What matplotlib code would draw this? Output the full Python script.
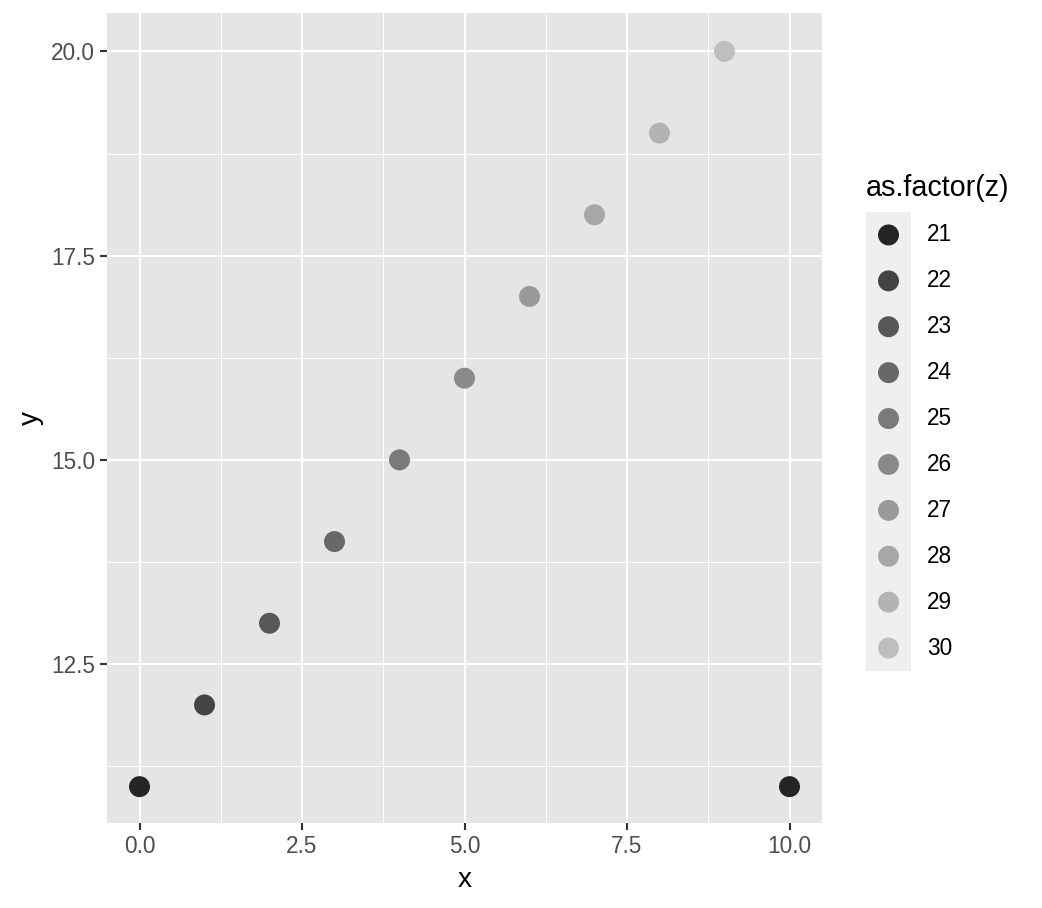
import matplotlib
matplotlib.use("Agg")
import matplotlib.pyplot as plt
from matplotlib.patches import Rectangle

plt.rcParams["font.family"] = ["Liberation Sans", "DejaVu Sans"]

# data
x = [0, 1, 2, 3, 4, 5, 6, 7, 8, 9, 10]
y = [11, 12, 13, 14, 15, 16, 17, 18, 19, 20, 11]
z = [21, 22, 23, 24, 25, 26, 27, 28, 29, 30, 21]
levels = [21, 22, 23, 24, 25, 26, 27, 28, 29, 30]
level_colors = ["#242424", "#444444", "#575757", "#686868", "#7a7a7a",
                "#8a8a8a", "#999999", "#a7a7a7", "#b3b3b3", "#bebebe"]
xticks = [0.0, 2.5, 5.0, 7.5, 10.0]
yticks = [12.5, 15.0, 17.5, 20.0]

W, H, DPI = 1042, 908, 144
fig = plt.figure(figsize=(W / DPI, H / DPI), dpi=DPI)
fig.patch.set_facecolor("white")

def fx(px):
    return px / W

def fy(py):
    return 1 - py / H

L, R, T, B = 107, 822, 13, 823
ax = fig.add_axes([fx(L), fy(B), fx(R) - fx(L), fy(T) - fy(B)])
ax.set_facecolor("#E5E5E5")
for s in ax.spines.values():
    s.set_visible(False)

ax.set_xlim(-0.5, 10.5)
ax.set_ylim(10.555, 20.47)
ax.set_xticks(xticks)
ax.set_yticks(yticks)
ax.set_xticklabels(["0.0", "2.5", "5.0", "7.5", "10.0"])
ax.set_yticklabels(["12.5", "15.0", "17.5", "20.0"])
ax.set_xticks([1.25, 3.75, 6.25, 8.75], minor=True)
ax.set_yticks([11.25, 13.75, 16.25, 18.75], minor=True)
ax.grid(which="major", color="white", linewidth=1.07)
ax.grid(which="minor", color="white", linewidth=0.53)
ax.set_axisbelow(True)
ax.tick_params(which="major", length=3.5, width=1.07, color="#333333",
               labelsize=11.3, labelcolor="#4D4D4D", pad=2.5)
ax.tick_params(which="minor", length=0)

cmap = dict(zip(levels, level_colors))
ax.scatter(x, y, c=[cmap[v] for v in z], s=110, linewidths=0, zorder=3)

fig.text(fx((L + R) / 2), fy(880), "x", fontsize=14, ha="center", va="center", color="black")
fig.text(fx(31), fy((T + B) / 2), "y", fontsize=14, ha="center", va="center",
         rotation=90, color="black")

# legend
kx0, kx1 = 866, 911
ky0 = 212
kh = 45.9
n = len(levels)
lax = fig.add_axes([fx(kx0), fy(ky0 + kh * n), fx(kx1) - fx(kx0), fy(ky0) - fy(ky0 + kh * n)])
lax.set_xlim(0, 1)
lax.set_ylim(n, 0)
lax.axis("off")
lax.add_patch(Rectangle((0, 0), 1, n, facecolor="#EFEFEF", edgecolor="none"))
lax.scatter([0.5] * n, [i + 0.5 for i in range(n)], c=level_colors, s=110, linewidths=0)
for i, lv in enumerate(levels):
    fig.text(fx(927), fy(ky0 + kh * (i + 0.5)), str(lv), fontsize=11.3,
             ha="left", va="center", color="black")
fig.text(fx(866), fy(188), "as.factor(z)", fontsize=14.4, ha="left", va="center", color="black")

fig.savefig("out.png", dpi=DPI)
